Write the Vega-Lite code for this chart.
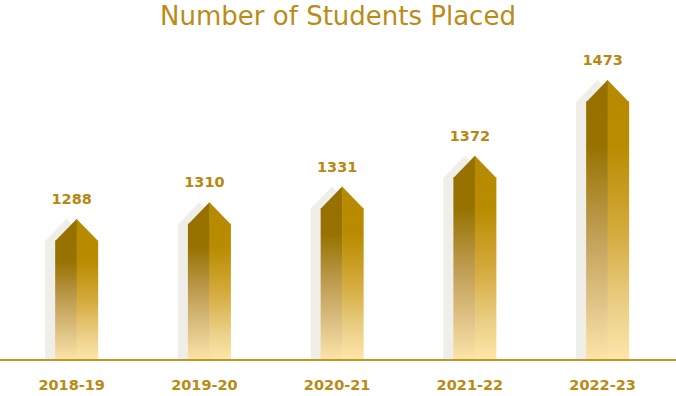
{
  "$schema": "https://vega.github.io/schema/vega-lite/v6.json",
  "autosize": {"type": "none"},
  "padding": {"top": 40, "left": 0, "right": 0, "bottom": 36},
  "width": 676,
  "height": 320,
  "background": "white",
  "config": {"view": {"stroke": null}},
  "title": {
    "text": "Number of Students Placed",
    "font": "DejaVu Sans",
    "fontSize": 26,
    "fontWeight": "normal",
    "color": "#bb8b16",
    "anchor": "middle",
    "offset": 10
  },
  "data": {
    "values": [
      {"year": "2018-19", "students": 1288},
      {"year": "2019-20", "students": 1310},
      {"year": "2020-21", "students": 1331},
      {"year": "2021-22", "students": 1372},
      {"year": "2022-23", "students": 1473}
    ]
  },
  "encoding": {
    "x": {
      "field": "year",
      "type": "nominal",
      "sort": null,
      "scale": {"range": [5.3, 669], "paddingInner": 0, "paddingOuter": 0},
      "axis": {
        "title": null,
        "domain": false,
        "ticks": false,
        "labelAngle": 0,
        "labelFont": "DejaVu Sans",
        "labelFontSize": 14.5,
        "labelFontWeight": "bold",
        "labelColor": "#b98a14",
        "labelPadding": 18
      }
    },
    "y": {
      "field": "students",
      "type": "quantitative",
      "scale": {"domain": [1100, 1526.3], "zero": false, "nice": false},
      "axis": null
    }
  },
  "layer": [
    {
      "mark": {"type": "bar", "width": 43, "xOffset": -5, "yOffset": 21.5, "color": "#efeee9"},
      "encoding": {"y2": {"datum": 1100}}
    },
    {
      "mark": {"type": "point", "shape": "M0,0L1,1.03L-1,1.03Z", "size": 1849, "filled": true, "opacity": 1, "strokeWidth": 0, "xOffset": -5, "color": "#efeee9"}
    },
    {
      "mark": {
        "type": "bar", "width": 22, "xOffset": -5.5, "yOffset": 21.5,
        "color": {
          "gradient": "linear", "x1": 0, "y1": 0, "x2": 0, "y2": 1,
          "stops": [
            {"offset": 0, "color": "#967100"},
            {"offset": 0.17, "color": "#977200"},
            {"offset": 0.5, "color": "#bf9d52"},
            {"offset": 0.8, "color": "#e2c68a"},
            {"offset": 1, "color": "#fde4a8"}
          ]
        }
      },
      "encoding": {"y2": {"datum": 1100}}
    },
    {
      "mark": {
        "type": "bar", "width": 21.5, "xOffset": 15.75, "yOffset": 21.5,
        "color": {
          "gradient": "linear", "x1": 0, "y1": 0, "x2": 0, "y2": 1,
          "stops": [
            {"offset": 0, "color": "#b88a00"},
            {"offset": 0.17, "color": "#b98b00"},
            {"offset": 0.5, "color": "#d4aa3c"},
            {"offset": 0.8, "color": "#ecd088"},
            {"offset": 1, "color": "#fee6aa"}
          ]
        }
      },
      "encoding": {"y2": {"datum": 1100}}
    },
    {
      "mark": {"type": "point", "shape": "M0,0L-1,1.03L0.02,1.03L0.02,0Z", "size": 1849, "filled": true, "opacity": 1, "strokeWidth": 0, "xOffset": 5, "color": "#967100"}
    },
    {
      "mark": {"type": "point", "shape": "M0,0L1,1.03L0,1.03Z", "size": 1849, "filled": true, "opacity": 1, "strokeWidth": 0, "xOffset": 5, "color": "#b88a00"}
    },
    {
      "mark": {"type": "text", "font": "DejaVu Sans", "fontSize": 14.5, "fontWeight": "bold", "color": "#b8870f", "baseline": "middle", "dy": -19},
      "encoding": {"text": {"field": "students", "type": "quantitative"}}
    },
    {
      "mark": {"type": "rule", "color": "#c4951f", "strokeWidth": 2},
      "encoding": {"x": {"value": 0}, "x2": {"value": 676}, "y": {"datum": 1100}}
    }
  ]
}
